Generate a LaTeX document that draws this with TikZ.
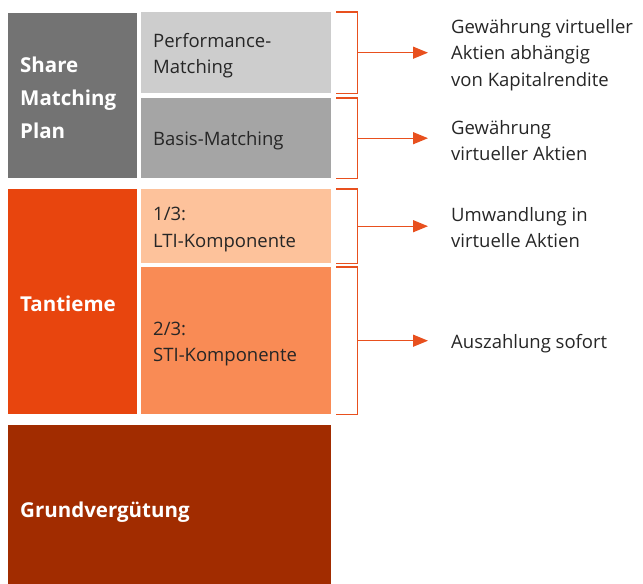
\documentclass[tikz,border=0pt]{standalone}
\usepackage{fontspec}
\setmainfont{Open Sans}
\usetikzlibrary{arrows.meta}

\definecolor{dunkelgrau}{HTML}{737373}
\definecolor{hellgrau}{HTML}{CDCDCD}
\definecolor{mittelgrau}{HTML}{A5A5A5}
\definecolor{rotorange}{HTML}{E8450E}
\definecolor{pfirsich}{HTML}{FDC29B}
\definecolor{lachs}{HTML}{F98B55}
\definecolor{rostbraun}{HTML}{A12C00}
\definecolor{linie}{HTML}{E8501E}
\definecolor{schrift}{HTML}{262626}

\begin{document}
\begin{tikzpicture}[
    x=1pt, y=-1pt,  % Pixelraster, y nach unten
    % Blöcke links
    box/.style={anchor=north west, inner xsep=12pt, inner ysep=0pt, align=left,
        text=schrift, font=\fontsize{18.5}{26.5}\selectfont,
        execute at begin node={\rule{0pt}{20pt}}},
    titel/.style={box, text=white, font=\bfseries\fontsize{20.5}{33}\selectfont,
        execute at begin node={\rule{0pt}{19pt}}},
    % Klammern und Pfeile
    klammer/.style={draw=linie, line width=1.3pt},
    pfeil/.style={klammer, -{Triangle[length=15pt, width=12pt]}, shorten >=17pt},
    ergebnis/.style={anchor=west, align=left, inner sep=6pt,
        text=schrift, font=\fontsize{18.5}{26.5}\selectfont}
]
\useasboundingbox (0,0) rectangle (643,584);

% Share Matching Plan
\node[titel, fill=dunkelgrau, text width=105pt, minimum height=165pt] (smp) at (8,13) {Share\\Matching\\Plan};
\node[box, fill=hellgrau, text width=166pt, minimum height=81pt] (perf) at (141,12) {Performance-\\Matching};
\node[box, fill=mittelgrau, text width=166pt, minimum height=80pt] (basis) at (141,98) {Basis-Matching};

% Tantieme
\node[titel, fill=rotorange, text width=105pt, minimum height=225pt] (tant) at (8,189) {Tantieme};
\node[box, fill=pfirsich, text width=166pt, minimum height=74pt] (lti) at (141,189) {1/3:\\LTI-Komponente};
\node[box, fill=lachs, text width=166pt, minimum height=147pt] (sti) at (141,267) {2/3:\\STI-Komponente};

% Grundvergütung
\node[titel, fill=rostbraun, text width=299pt, minimum height=170pt] (grund) at (8,425) {Grundvergütung};

% Ergebnisse rechts
\node[ergebnis] (e1) at (445,55) {Gewährung virtueller\\Aktien abhängig\\von Kapitalrendite};
\node[ergebnis] (e2) at (445,140.5) {Gewährung\\virtueller Aktien};
\node[ergebnis] (e3) at (445,227.5) {Umwandlung in\\virtuelle Aktien};
\node[ergebnis] (e4) at (445,343.5) {Auszahlung sofort};

% Klammern
\foreach \b/\k in {perf/k1, basis/k2, lti/k3, sti/k4}{
    \draw[klammer] ([xshift=5pt]\b.north east) -- ++(21,0) |- ([xshift=5pt]\b.south east);
    \coordinate (\k) at ([xshift=26pt]\b.east);
}

% Pfeile
\foreach \k/\e in {k1/e1, k2/e2, k3/e3, k4/e4}
    \draw[pfeil] (\k) -- (\k -| \e.west);
\end{tikzpicture}
\end{document}
